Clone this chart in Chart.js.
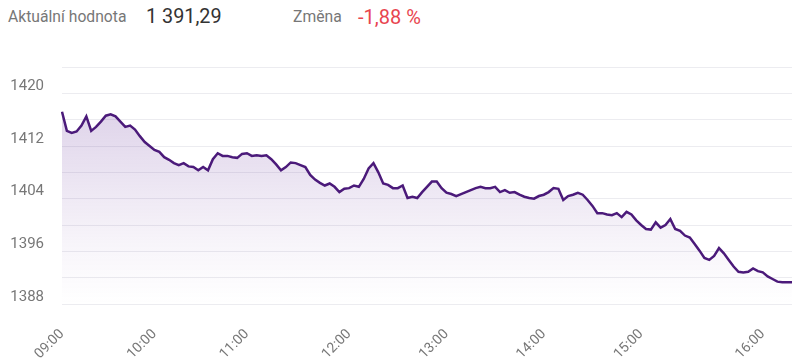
<!DOCTYPE html>
<html>
<head>
<meta charset="utf-8">
<script src="https://cdn.jsdelivr.net/npm/chart.js@4"></script>
<style>
  html, body { margin: 0; padding: 0; background: #fff; }
  body { width: 800px; height: 363px; position: relative; overflow: hidden; font-family: Roboto, sans-serif; }
  .hdr { position: absolute; top: 0; height: 34px; line-height: 34px; white-space: nowrap; }
  .lbl { color: #777; font-size: 15.7px; }
  .val { color: #333; font-size: 19.8px; }
  .neg { color: #e8454f; font-size: 20px; }
  #wrap { position: absolute; left: 0; top: 0; width: 800px; height: 363px; }
</style>
</head>
<body>
<span class="hdr lbl" style="left:8px">Aktuální hodnota</span>
<span class="hdr val" style="left:146px">1 391,29</span>
<span class="hdr lbl" style="left:293px">Změna</span>
<span class="hdr neg" style="left:358px">-1,88 %</span>
<div id="wrap"><canvas id="chart"></canvas></div>
<script>
const $ = id => document.getElementById(id);

// hour ticks and where each hour starts in the point list
const hours = ["09:00", "10:00", "11:00", "12:00", "13:00", "14:00", "15:00", "16:00"];
const hourStart = [0, 19, 38, 59, 79, 99, 119, 144];

// index value
const values = [
  1417.2, 1414.3, 1414.0, 1414.2, 1415.1, 1416.5, 1414.3, 1414.9, 1415.7, 1416.6,
  1416.8, 1416.5, 1415.7, 1414.9, 1415.1, 1414.5, 1413.5, 1412.6, 1412.0, 1411.4,
  1411.1, 1410.3, 1409.9, 1409.4, 1409.1, 1409.4, 1408.9, 1408.8, 1408.3, 1408.8,
  1408.3, 1410.0, 1410.9, 1410.5, 1410.5, 1410.3, 1410.2, 1410.8, 1410.9, 1410.5,
  1410.6, 1410.5, 1410.6, 1410.0, 1409.2, 1408.3, 1408.8, 1409.5, 1409.4, 1409.1,
  1408.8, 1407.6, 1406.9, 1406.4, 1406.0, 1406.3, 1405.8, 1405.0, 1405.5, 1405.6,
  1406.0, 1405.8, 1407.0, 1408.6, 1409.4, 1408.0, 1406.3, 1406.1, 1405.6, 1405.6,
  1406.0, 1404.1, 1404.3, 1404.1, 1405.0, 1405.8, 1406.6, 1406.6, 1405.6, 1404.9,
  1404.7, 1404.4, 1404.7, 1405.0, 1405.3, 1405.6, 1405.8, 1405.6, 1405.6, 1405.8,
  1405.0, 1405.3, 1404.9, 1405.0, 1404.6, 1404.3, 1404.1, 1404.0, 1404.4, 1404.6,
  1405.0, 1405.6, 1405.5, 1403.8, 1404.4, 1404.6, 1404.9, 1404.6, 1403.8, 1402.9,
  1401.8, 1401.8, 1401.6, 1401.5, 1401.8, 1401.2, 1402.0, 1401.6, 1400.7, 1400.0,
  1399.4, 1399.3, 1400.4, 1399.6, 1400.0, 1400.9, 1399.4, 1399.1, 1398.4, 1398.1,
  1397.1, 1396.1, 1395.0, 1394.7, 1395.3, 1396.5, 1395.7, 1394.7, 1393.7, 1392.9,
  1392.8, 1392.9, 1393.4, 1393.0, 1392.8, 1392.2, 1391.8, 1391.4, 1391.3, 1391.3,
  1391.29
];

const yMin = 1388, yMax = 1424, yStep = 4;

// time label for every point, minutes spread inside each hour
const labels = values.map((v, i) => {
  let h = 0;
  while (h + 1 < hourStart.length && hourStart[h + 1] <= i) h++;
  const end = h + 1 < hourStart.length ? hourStart[h + 1] : values.length;
  const span = Math.max(end - hourStart[h], 1);
  const min = Math.round(60 * (i - hourStart[h]) / span);
  return hours[h].slice(0, 3) + String(Math.min(min, 59)).padStart(2, "0");
});

const tickColor = "#777";
const gridColor = "#ececf0";

new Chart($("chart").getContext("2d"), {
  type: "line",
  data: {
    labels,
    datasets: [{
      data: values,
      borderColor: "#4b1a7a",
      borderWidth: 2.5,
      pointRadius: 0,
      tension: 0,
      fill: "start",
      backgroundColor: ctx => {
        const area = ctx.chart.chartArea;
        if (!area) return "rgba(110,60,160,0.15)";
        const g = ctx.chart.ctx.createLinearGradient(0, area.top, 0, area.bottom);
        g.addColorStop(0, "rgba(110,60,160,0.28)");
        g.addColorStop(0.75, "rgba(110,60,160,0.05)");
        g.addColorStop(1, "rgba(110,60,160,0)");
        return g;
      }
    }]
  },
  options: {
    responsive: true,
    maintainAspectRatio: false,
    animation: false,
    layout: { padding: { top: 67, left: 10, right: 8, bottom: 0 } },
    plugins: { legend: { display: false }, tooltip: { enabled: false } },
    scales: {
      x: {
        grid: { display: false },
        border: { display: false },
        ticks: {
          autoSkip: false,
          minRotation: 45,
          maxRotation: 45,
          padding: 14,
          color: tickColor,
          font: { family: "Roboto", size: 14 },
          callback: function (v) {
            const l = this.getLabelForValue(v);
            return l.endsWith(":00") ? l : "";
          }
        },
        afterFit: s => { s.height = 59; s.paddingRight = 0; s.paddingLeft = 0; }
      },
      y: {
        min: yMin,
        max: yMax,
        border: { display: false },
        grid: { color: gridColor, drawTicks: false },
        ticks: {
          stepSize: yStep,
          padding: 18,
          labelOffset: -7,
          color: tickColor,
          font: { family: "Roboto", size: 15 },
          callback: v => (v % 8 === 4 ? String(v) : "")
        },
        afterFit: s => { s.width = 52; }
      }
    }
  }
});
</script>
</body>
</html>
